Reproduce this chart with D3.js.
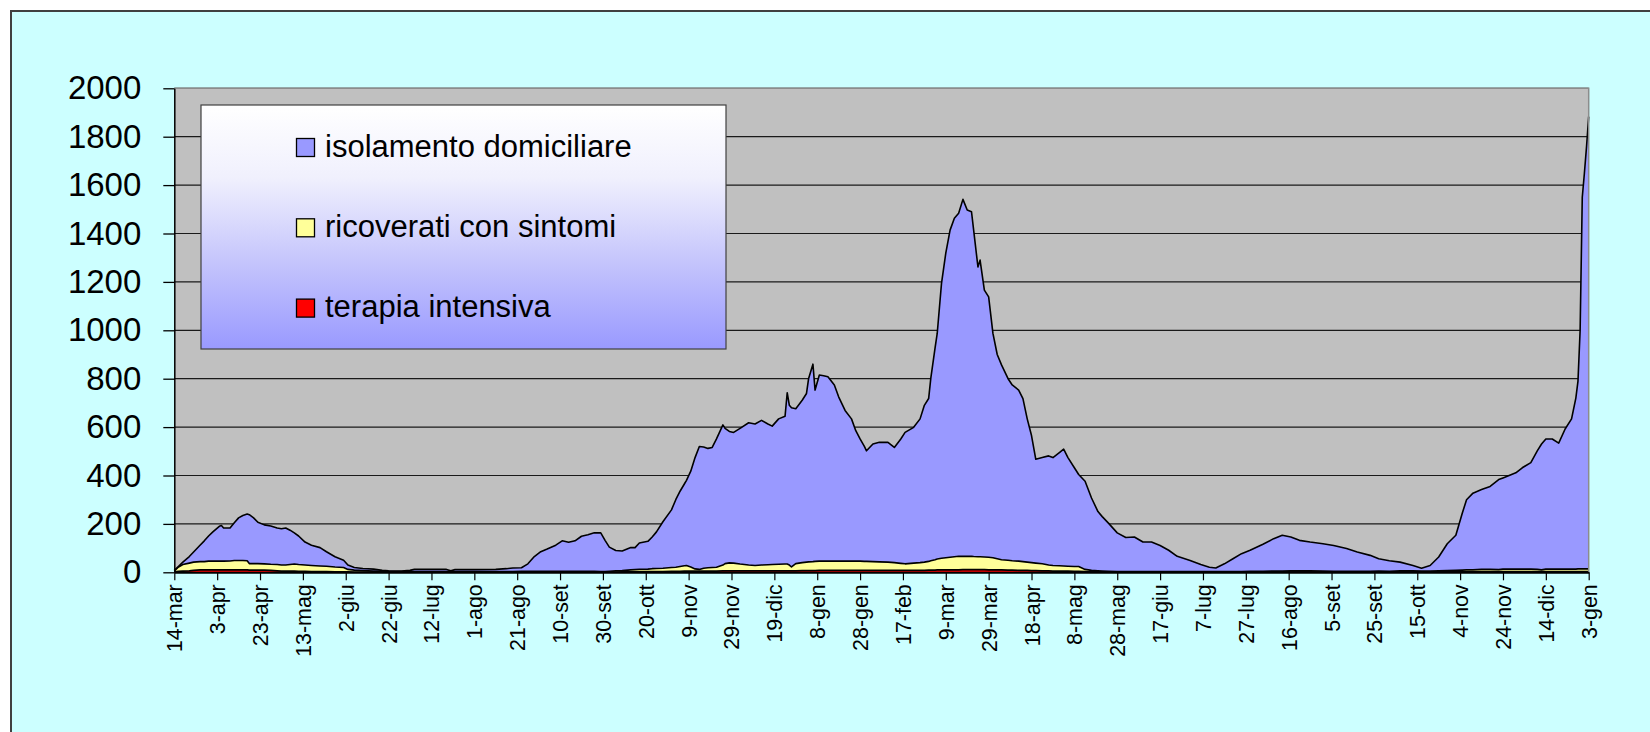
<!DOCTYPE html>
<html lang="it">
<head>
  <meta charset="UTF-8">
  <title>Isolamento, ricoverati, terapia intensiva</title>
  <script src="https://d3js.org/d3.v7.min.js"></script>
  <style>
    body { margin: 0; background: #ffffff; }
    svg { display: block; font-family: "Liberation Sans", Arial, sans-serif; }
  </style>
</head>
<body>
  <div id="chart"></div>
  <script>
    // giorni dal 14-mar-2020
    const startDate = new Date(2020, 2, 14);
    const days = [0,2,4,7,9,12,14,16,18,21,22,23,26,28,30,32,34,35,37,39,42,45,48,50,52,54,56,58,61,64,68,71,75,79,81,84,88,93,97,100,106,110,112,120,127,129,131,140,150,155,158,162,165,168,171,174,178,181,184,187,190,193,196,199,201,203,206,209,213,215,217,221,223,225,228,232,234,236,238,239,241,243,245,247,249,251,253,256,257,259,261,264,268,271,274,277,279,282,285,286,287,288,290,293,295,296,298,299,301,303,305,308,310,313,316,318,320,322,323,326,329,333,336,339,341,345,348,350,352,353,355,356,358,360,362,364,366,368,370,372,373,375,376,378,380,382,384,386,389,391,394,396,398,400,402,405,408,410,413,415,417,420,422,425,428,431,433,436,440,444,448,452,456,460,464,468,474,479,483,486,490,494,498,502,508,513,517,521,525,530,536,541,547,552,558,562,567,572,578,582,586,590,594,598,601,603,606,610,614,618,620,622,626,629,633,636,638,640,643,646,649,652,654,655,656,657,658,659,660];

    const isolamento = [2,3,10,27,42,68,86,104,121,144,147,137,136,156,176,186,193,202,189,171,161,158,151,150,153,142,129,118,95,84,76,60,42,30,18,11,9,8,4,3,2,5,9,9,9,3,8,8,9,12,15,15,31,61,81,92,108,126,120,126,145,151,159,160,129,100,84,81,92,91,109,115,131,151,192,238,279,311,338,352,396,460,508,501,493,496,530,579,559,543,540,561,588,585,598,582,572,601,611,708,660,658,640,671,697,758,816,708,769,766,762,728,679,623,588,539,505,475,457,486,494,495,476,514,543,561,594,648,673,753,875,932,1136,1259,1352,1399,1418,1475,1431,1424,1349,1198,1226,1103,1076,927,844,805,751,726,707,674,592,525,429,439,451,446,468,483,449,408,380,364,299,245,225,198,160,141,143,122,122,108,88,63,46,29,18,15,32,53,74,87,112,134,148,140,126,119,113,107,94,80,66,51,44,36,22,12,23,57,111,145,235,290,317,330,343,372,377,384,398,419,440,490,520,538,538,521,579,621,707,776,986,1536,1636,1746,1869];

    const ricoverati = [4,18,27,32,34,34,34,36,36,36,36,36,37,39,39,39,38,27,27,27,26,25,26,25,25,27,29,28,26,25,23,22,20,18,10,8,6,4,3,2,2,2,2,2,2,2,2,2,2,2,2,3,3,3,2,2,2,2,2,2,2,2,2,2,2,3,5,5,8,9,10,10,12,13,14,16,17,20,22,23,17,9,7,12,14,15,16,24,30,33,32,28,24,22,24,25,26,27,28,28,24,16,30,33,35,36,37,38,38,38,38,38,38,38,38,38,38,37,37,36,35,34,32,29,27,30,32,34,36,39,43,45,48,50,52,54,56,55,55,55,54,53,53,52,52,50,46,42,41,39,38,36,34,33,31,29,24,23,22,21,20,20,20,9,6,4,3,3,2,2,2,2,2,2,2,2,2,2,2,2,2,2,2,3,3,4,4,4,4,4,4,3,3,3,3,4,3,4,4,3,3,4,5,6,7,8,8,9,9,8,10,10,10,10,10,9,7,10,10,10,10,10,10,11,11,11,11,11,11];

    const terapia = [2,4,5,6,8,10,10,10,10,10,10,10,10,10,10,10,10,9,9,9,9,8,6,5,5,5,5,4,4,3,3,3,2,2,2,1,1,1,1,1,1,1,1,1,1,1,1,1,1,1,1,1,1,1,2,2,2,2,2,2,2,2,2,1,1,1,1,2,2,2,2,3,3,3,3,4,4,4,5,5,5,5,5,5,5,5,5,6,6,6,6,6,6,6,6,6,6,6,6,6,6,6,6,7,7,7,7,7,8,8,8,8,8,8,8,8,8,8,8,8,8,8,8,8,8,8,8,8,9,9,9,10,10,10,10,10,10,11,11,11,11,11,11,11,10,10,10,10,9,9,8,8,8,7,7,6,6,5,5,5,5,4,4,3,2,2,2,1,1,1,1,1,1,1,1,1,1,1,1,1,1,1,1,1,1,1,1,2,2,2,1,1,1,1,1,1,1,2,2,2,2,2,2,2,2,2,2,3,3,3,3,3,3,3,3,3,3,3,3,3,3,3,3,3,3,3,3,3,3,3,3];

    const tickLabels = ["14-mar","3-apr","23-apr","13-mag","2-giu","22-giu","12-lug","1-ago","21-ago","10-set","30-set","20-ott","9-nov","29-nov","19-dic","8-gen","28-gen","17-feb","9-mar","29-mar","18-apr","8-mag","28-mag","17-giu","7-lug","27-lug","16-ago","5-set","25-set","15-ott","4-nov","24-nov","14-dic","3-gen"];
    const yTicks = [0,200,400,600,800,1000,1200,1400,1600,1800,2000];

    const seriesKeys = ["terapia", "ricoverati", "isolamento"];
    const seriesColors = { terapia: "#ff0000", ricoverati: "#ffff99", isolamento: "#9999ff" };
    const legendItems = [
      { key: "isolamento", label: "isolamento domiciliare" },
      { key: "ricoverati", label: "ricoverati con sintomi" },
      { key: "terapia", label: "terapia intensiva" }
    ];

    const width = 1650, height = 732;
    const plot = { left: 174.3, right: 1588.7, top: 88.3, bottom: 572.3 };

    const rows = days.map((d, i) => ({
      date: d3.timeDay.offset(startDate, d),
      terapia: terapia[i],
      ricoverati: ricoverati[i],
      isolamento: isolamento[i]
    }));
    const tickDates = tickLabels.map((t, i) => d3.timeDay.offset(startDate, i * 20));

    const x = d3.scaleTime()
      .domain([startDate, tickDates[tickDates.length - 1]])
      .range([plot.left, plot.right]);
    const y = d3.scaleLinear().domain([0, 2000]).range([plot.bottom, plot.top]);

    const svg = d3.select("#chart").append("svg")
      .attr("width", width)
      .attr("height", height);

    // sfondo e cornice
    svg.append("rect")
      .attr("x", 11).attr("y", 11)
      .attr("width", width + 20).attr("height", height + 20)
      .attr("fill", "#ccffff")
      .attr("stroke", "#404040")
      .attr("stroke-width", 2);

    // area del grafico
    svg.append("rect")
      .attr("x", plot.left).attr("y", plot.top)
      .attr("width", plot.right - plot.left).attr("height", plot.bottom - plot.top)
      .attr("fill", "#c0c0c0");

    // griglia
    svg.append("g")
      .selectAll("line")
      .data(yTicks.slice(1))
      .enter()
      .append("line")
      .attr("x1", plot.left).attr("x2", plot.right)
      .attr("y1", d => y(d)).attr("y2", d => y(d))
      .attr("stroke", "#1a1a1a")
      .attr("stroke-width", 1.2);

    // aree sovrapposte
    const stacked = d3.stack().keys(seriesKeys)(rows);
    const area = d3.area()
      .x(d => x(d.data.date))
      .y0(d => y(d[0]))
      .y1(d => y(d[1]));
    const topLine = d3.line()
      .x(d => x(d.data.date))
      .y(d => y(d[1]));

    svg.append("g")
      .selectAll("path")
      .data(stacked)
      .enter()
      .append("path")
      .attr("d", area)
      .attr("fill", d => seriesColors[d.key]);

    svg.append("g")
      .selectAll("path")
      .data(stacked)
      .enter()
      .append("path")
      .attr("d", topLine)
      .attr("fill", "none")
      .attr("stroke", "#000")
      .attr("stroke-width", 1.6)
      .attr("stroke-linejoin", "round");

    // bordo area grafico (alto e destra grigi)
    svg.append("path")
      .attr("d", `M${plot.left},${plot.top}H${plot.right}V${plot.bottom}`)
      .attr("fill", "none")
      .attr("stroke", "#8c8c8c")
      .attr("stroke-width", 1.5);

    // assi
    const yAxis = svg.append("g")
      .attr("transform", `translate(${plot.left},0)`)
      .call(d3.axisLeft(y).tickValues(yTicks).tickFormat(d3.format("d"))
        .tickSize(11).tickPadding(22).tickSizeOuter(0));
    yAxis.select(".domain").attr("stroke", "#000").attr("stroke-width", 1.5);
    yAxis.selectAll(".tick line").attr("stroke", "#000").attr("stroke-width", 1.3);
    yAxis.selectAll("text")
      .attr("font-size", 33)
      .attr("font-family", "Liberation Sans, Arial, sans-serif")
      .attr("fill", "#000");

    const xAxis = svg.append("g")
      .attr("transform", `translate(0,${plot.bottom})`)
      .call(d3.axisBottom(x).tickValues(tickDates).tickFormat((d, i) => tickLabels[i]).tickSize(8).tickSizeOuter(0));
    xAxis.select(".domain").attr("stroke", "#000").attr("stroke-width", 2);
    xAxis.selectAll(".tick line").attr("stroke", "#000").attr("stroke-width", 1.2);
    xAxis.selectAll("text")
      .attr("transform", "rotate(-90)")
      .attr("x", -12)
      .attr("y", 0)
      .attr("dy", "0.35em")
      .attr("text-anchor", "end")
      .attr("font-size", 21.4)
      .attr("font-family", "Liberation Sans, Arial, sans-serif")
      .attr("fill", "#000");

    // legenda
    const grad = svg.append("defs").append("linearGradient")
      .attr("id", "legendGrad")
      .attr("x1", 0).attr("y1", 0).attr("x2", 0).attr("y2", 1);
    grad.append("stop").attr("offset", "0%").attr("stop-color", "#ffffff");
    grad.append("stop").attr("offset", "30%").attr("stop-color", "#f0f0fd");
    grad.append("stop").attr("offset", "65%").attr("stop-color", "#c4c4fc");
    grad.append("stop").attr("offset", "100%").attr("stop-color", "#9999ff");

    svg.append("rect")
      .attr("x", 201).attr("y", 105)
      .attr("width", 525).attr("height", 244)
      .attr("fill", "url(#legendGrad)")
      .attr("stroke", "#404040")
      .attr("stroke-width", 1.2);

    const legend = svg.append("g")
      .selectAll("g")
      .data(legendItems)
      .enter()
      .append("g")
      .attr("transform", (d, i) => `translate(296.5,${156.5 + i * 80.3})`);
    legend.append("rect")
      .attr("x", 0).attr("y", -18)
      .attr("width", 18).attr("height", 18)
      .attr("fill", d => seriesColors[d.key])
      .attr("stroke", "#000")
      .attr("stroke-width", 1.3);
    legend.append("text")
      .attr("x", 28.5).attr("y", 0)
      .attr("font-size", 31)
      .attr("fill", "#000")
      .text(d => d.label);
  </script>
</body>
</html>
